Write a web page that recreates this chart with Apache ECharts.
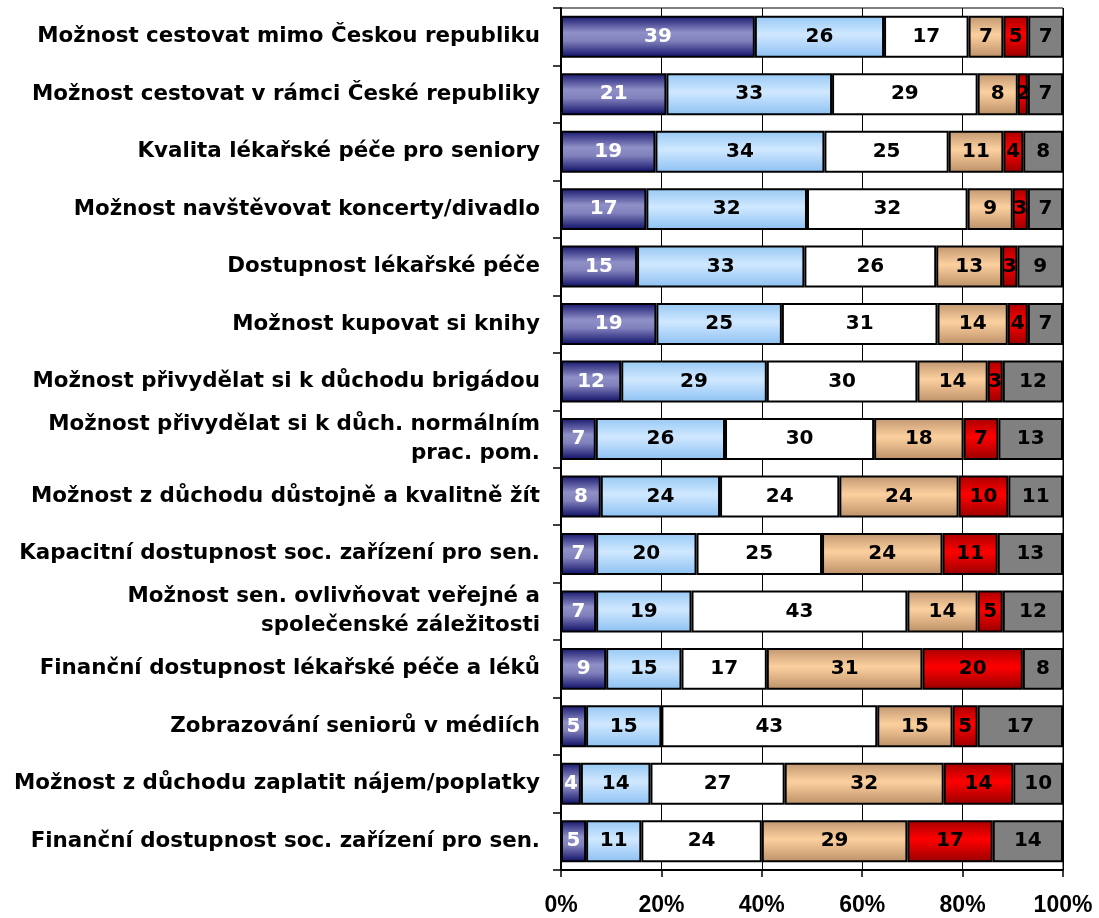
<!DOCTYPE html>
<html><head><meta charset="utf-8">
<script src="https://cdn.jsdelivr.net/npm/echarts@6/dist/echarts.min.js"></script>
<style>html,body{margin:0;padding:0;background:#fff}#c{width:1099px;height:918px}</style>
</head><body><div id="c"></div>
<script>
const categories = [
  "Možnost cestovat mimo Českou republiku",
  "Možnost cestovat v rámci České republiky",
  "Kvalita lékařské péče pro seniory",
  "Možnost navštěvovat koncerty/divadlo",
  "Dostupnost lékařské péče",
  "Možnost kupovat si knihy",
  "Možnost přivydělat si k důchodu brigádou",
  "Možnost přivydělat si k důch. normálním\nprac. pom.",
  "Možnost z důchodu důstojně a kvalitně žít",
  "Kapacitní dostupnost soc. zařízení pro sen.",
  "Možnost sen. ovlivňovat veřejné a\nspolečenské záležitosti",
  "Finanční dostupnost lékařské péče a léků",
  "Zobrazování seniorů v médiích",
  "Možnost z důchodu zaplatit nájem/poplatky",
  "Finanční dostupnost soc. zařízení pro sen."
];
const s1 = [39,21,19,17,15,19,12,7,8,7,7,9,5,4,5];
const s2 = [26,33,34,32,33,25,29,26,24,20,19,15,15,14,11];
const s3 = [17,29,25,32,26,31,30,30,24,25,43,17,43,27,24];
const s4 = [7,8,11,9,13,14,14,18,24,24,14,31,15,32,29];
const s5 = [5,2,4,3,3,4,3,7,10,11,5,20,5,14,17];
const s6 = [7,7,8,7,9,7,12,13,11,13,12,8,17,10,14];
const tickLabels = ["0%","20%","40%","60%","80%","100%"];

const all = [s1,s2,s3,s4,s5,s6];
const sums = categories.map((_,i)=>all.reduce((a,s)=>a+s[i],0));

function grad(stops){
  return {type:'linear',x:0,y:0,x2:0,y2:1,colorStops:stops.map(s=>({offset:s[0],color:s[1]}))};
}
const fills = [
  grad([[0,'#16166e'],[0.4,'#9090c8'],[0.6,'#8080bc'],[1,'#0c0c66']]),
  grad([[0,'#96c8f4'],[0.45,'#d0e8ff'],[1,'#8cc0f2']]),
  '#ffffff',
  grad([[0,'#c09670'],[0.45,'#fcd09e'],[1,'#bc9068']]),
  grad([[0,'#a80000'],[0.45,'#ff0000'],[1,'#980000']]),
  '#808080'
];
const labelColors = ['#ffffff','#000','#000','#000','#000','#000'];
const FONT = 'DejaVu Sans, Verdana, sans-serif';

const series = all.map((arr,k)=>({
  type:'bar', stack:'t', barWidth:'73%',
  data: arr.map((v,i)=>({value: v/sums[i]*100, raw:v})),
  itemStyle:{color:fills[k], borderColor:'#000', borderWidth:2},
  label:{show:true, position:'inside', color:labelColors[k], fontSize:20, fontWeight:'bold',
    fontFamily:FONT, formatter:p=>p.data.raw},
  animation:false
}));

const chart = echarts.init(document.getElementById('c'),null,{renderer:'canvas'});
chart.setOption({
  animation:false,
  grid:{left:561,right:36,top:8,bottom:48,show:true,borderColor:'#000',borderWidth:1,containLabel:false},
  xAxis:{type:'value',min:0,max:100,interval:20,
    axisLine:{show:true,lineStyle:{color:'#000',width:2}},
    axisTick:{show:true,length:7,lineStyle:{color:'#000',width:1.5}},
    splitLine:{show:true,lineStyle:{color:'#000',width:1}},
    axisLabel:{margin:24,fontSize:23,fontWeight:'bold',color:'#000',fontFamily:'Liberation Sans, Arial, sans-serif',
      formatter:v=>tickLabels[Math.round(v/20)]}},
  yAxis:{type:'category',data:categories,inverse:true,
    axisLine:{show:true,lineStyle:{color:'#000',width:2}},
    axisTick:{show:true,length:8,inside:false,lineStyle:{color:'#000',width:1.5}},
    axisLabel:{margin:21,fontSize:21.4,fontWeight:'bold',color:'#000',align:'right',lineHeight:29,
      fontFamily:FONT}},
  series:series
});
</script></body></html>
